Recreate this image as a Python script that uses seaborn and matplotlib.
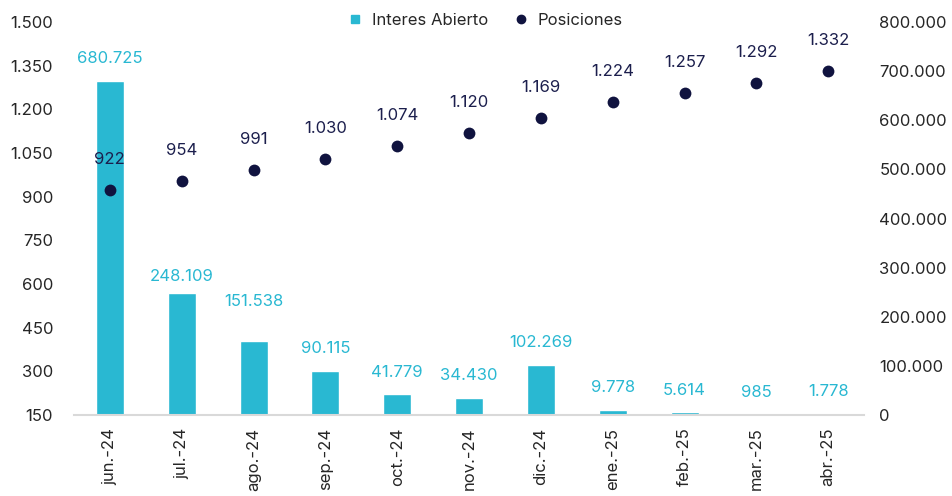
import matplotlib.pyplot as plt
import seaborn as sns
import pandas as pd
from matplotlib.lines import Line2D
from matplotlib.ticker import FuncFormatter


meses = ['jun.-24', 'jul.-24', 'ago.-24', 'sep.-24', 'oct.-24', 'nov.-24',
         'dic.-24', 'ene.-25', 'feb.-25', 'mar.-25', 'abr.-25']
interes_abierto = [680725, 248109, 151538, 90115, 41779, 34430,
                   102269, 9778, 5614, 985, 1778]
posiciones = [922, 954, 991, 1030, 1074, 1120, 1169, 1224, 1257, 1292, 1332]

ticks_pos = list(range(150, 1501, 150))
ticks_ia = list(range(0, 800001, 100000))

cian = '#29b8d2'
marino = '#10133f'
gris = '#262626'


def miles(v, pos=None):
    return f'{int(v):,}'.replace(',', '.')


df = pd.DataFrame({'mes': meses, 'ia': interes_abierto, 'pos': posiciones})

sns.set_style('white')
plt.rcParams['font.family'] = ['Inter', 'DejaVu Sans']
plt.rcParams['font.size'] = 12

fig = plt.figure(figsize=(9.52, 4.96), dpi=100)
ax = fig.add_axes([0.0777, 0.1633, 0.83, 0.7923])
ax2 = ax.twinx()

# bars on the primary axis (drawn behind), shown on the right scale
sns.barplot(data=df, x='mes', y='ia', color=cian, width=0.39,
            saturation=1, ax=ax)
ax.set_ylim(0, 800000)
ax.set_yticks(ticks_ia)
ax.yaxis.set_major_formatter(FuncFormatter(miles))
ax.yaxis.tick_right()
ax.tick_params(axis='y', length=0, pad=11, colors=gris, labelsize=12)
ax.tick_params(axis='x', length=0, pad=9, colors=gris, labelsize=12,
               rotation=90)
ax.set_xlim(-0.5, len(meses) - 0.5)
ax.set_xlabel('')
ax.set_ylabel('')

# dots on the twin axis, shown on the left scale
sns.pointplot(data=df, x='mes', y='pos', color=marino, linestyle='none',
              markers='o', markersize=8.5, markeredgewidth=0,
              errorbar=None, ax=ax2)
ax2.set_ylim(150, 1500)
ax2.set_yticks(ticks_pos)
ax2.yaxis.set_major_formatter(FuncFormatter(miles))
ax2.yaxis.tick_left()
ax2.tick_params(axis='y', length=0, pad=15, colors=gris, labelsize=12)
ax2.set_xlim(-0.5, len(meses) - 0.5)
ax2.set_xlabel('')
ax2.set_ylabel('')

for a in (ax, ax2):
    for s in a.spines.values():
        s.set_visible(False)
ax.spines['bottom'].set_visible(True)
ax.spines['bottom'].set_color('#d9d9d9')
ax.spines['bottom'].set_linewidth(1.5)

ajuste = {1: -4, 2: 12}
for i, v in enumerate(interes_abierto):
    ax.annotate(miles(v), (i, v), xytext=(0, 16 + ajuste.get(i, 0)),
                textcoords='offset points', ha='center', va='center',
                color=cian, fontsize=12)

for i, v in enumerate(posiciones):
    ax2.annotate(miles(v), (i, v), xytext=(0, 22),
                 textcoords='offset points', ha='center', va='center',
                 color='#1c1f4d', fontsize=12)

handles = [
    Line2D([], [], marker='s', linestyle='none', color=cian, markersize=6),
    Line2D([], [], marker='o', linestyle='none', color=marino, markersize=6),
]
fig.legend(handles, ['Interes Abierto', 'Posiciones'], loc='upper center',
           bbox_to_anchor=(0.505, 1.005), ncol=2, frameon=False,
           handletextpad=0.0, columnspacing=1.0, fontsize=12,
           labelcolor=gris)

fig.savefig('out.png', dpi=100)
